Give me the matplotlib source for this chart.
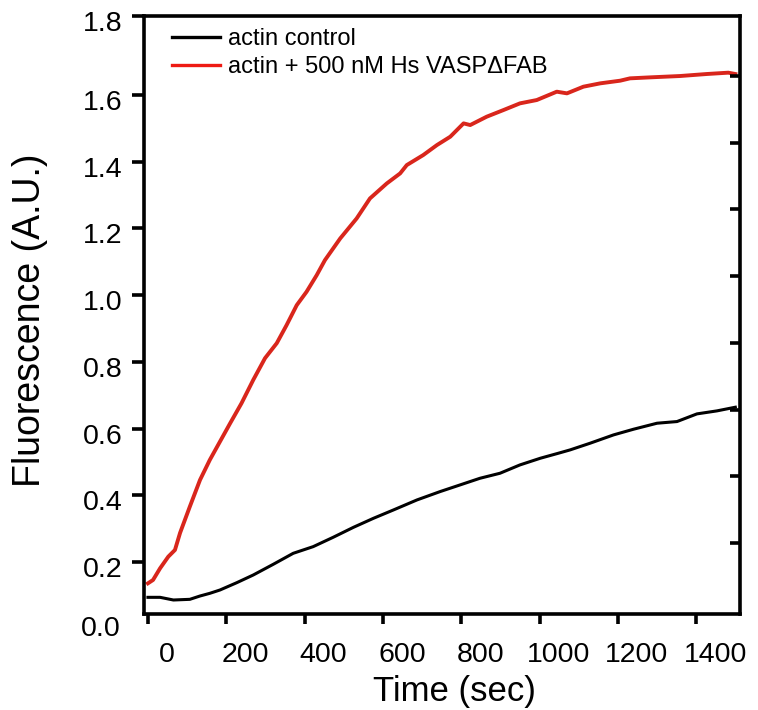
import matplotlib
matplotlib.use("Agg")
import matplotlib.pyplot as plt
from matplotlib.lines import Line2D
from matplotlib.transforms import ScaledTranslation

plt.rcParams['font.family'] = ['Liberation Sans', 'DejaVu Sans']

# actin + 500 nM Hs VASPdFAB
t_vasp = [0, 13, 31, 52, 69, 82, 107, 133, 158, 184, 210, 239, 269, 299, 329,
          354, 380, 405, 431, 452, 491, 533, 567, 610, 644, 661, 703, 738, 772,
          806, 823, 865, 908, 950, 993, 1044, 1070, 1112, 1155, 1206, 1231,
          1283, 1359, 1427, 1482, 1500]
f_vasp = [0.136, 0.146, 0.181, 0.216, 0.236, 0.287, 0.366, 0.446, 0.506, 0.561,
          0.616, 0.676, 0.746, 0.811, 0.856, 0.910, 0.970, 1.010, 1.060, 1.105,
          1.170, 1.230, 1.290, 1.335, 1.365, 1.390, 1.420, 1.450, 1.475, 1.515,
          1.510, 1.535, 1.555, 1.575, 1.585, 1.610, 1.605, 1.625, 1.635, 1.643,
          1.650, 1.653, 1.657, 1.663, 1.667, 1.663]

# actin control
t_ctrl = [0, 31, 65, 107, 133, 158, 184, 227, 269, 320, 371, 422, 473, 525, 576,
          627, 687, 746, 797, 848, 899, 950, 1002, 1048, 1078, 1129, 1189, 1240,
          1300, 1351, 1402, 1453, 1500]
f_ctrl = [0.094, 0.094, 0.086, 0.088, 0.098, 0.106, 0.116, 0.138, 0.161, 0.193,
          0.226, 0.246, 0.274, 0.304, 0.331, 0.356, 0.386, 0.411, 0.431, 0.451,
          0.466, 0.491, 0.511, 0.526, 0.536, 0.556, 0.581, 0.598, 0.616, 0.621,
          0.644, 0.653, 0.664]

x_ticks = [0, 200, 400, 600, 800, 1000, 1200, 1400]
y_ticks = [0.2, 0.4, 0.6, 0.8, 1.0, 1.2, 1.4, 1.6]
y_tick_labels = ['0.2', '0.4', '0.6', '0.8', '1.0', '1.2', '1.4', '1.6']
right_ticks = [0.257, 0.457, 0.657, 0.857, 1.057, 1.257, 1.457, 1.657]

fig = plt.figure(figsize=(7.58, 7.10), dpi=100)
ax = fig.add_axes([0.19, 0.1352, 0.7863, 0.8423])

ax.plot(t_ctrl, f_ctrl, color='black', lw=2.2)
ax.plot(t_vasp, f_vasp, color='#d9261c', lw=2.8)

ax.set_xlim(-10, 1512)
ax.set_ylim(0.044, 1.837)

# top tick sits on the upper frame line
ax.set_yticks(y_ticks + [1.837])
ax.set_yticklabels(y_tick_labels + ['1.8'])
ax.set_xticks(x_ticks)
ax.set_xticklabels([str(v) for v in x_ticks])

for s in ax.spines.values():
    s.set_linewidth(2.6)
ax.tick_params(axis='x', direction='out', length=7.5, width=2.6, pad=13,
               labelsize=20.5, top=False)
ax.tick_params(axis='y', direction='out', length=8.6, width=2.6, pad=7,
               labelsize=20.5, right=False)

# tick labels in the original are nudged off their ticks
for lab in ax.get_xticklabels():
    lab.set_transform(lab.get_transform() + ScaledTranslation(0.19, 0, fig.dpi_scale_trans))
for lab in ax.get_yticklabels():
    lab.set_transform(lab.get_transform() + ScaledTranslation(0, -0.05, fig.dpi_scale_trans))

ax.text(-0.0392, 0.0, '0.0', transform=ax.get_yaxis_transform(), ha='right',
        va='center', fontsize=20.5, clip_on=False)

ax2 = ax.twinx()
ax2.set_ylim(ax.get_ylim())
ax2.set_yticks(right_ticks)
ax2.tick_params(axis='y', direction='in', length=7.5, width=2.6, labelright=False)
for s in ax2.spines.values():
    s.set_visible(False)

ax.set_xlabel('Time (sec)', fontsize=25)
ax.xaxis.set_label_coords(0.52, -0.102)
ax.set_ylabel('Fluorescence (A.U.)', fontsize=27)
ax.yaxis.set_label_coords(-0.161, 0.492)

handles = [Line2D([], [], color='black', lw=2.4),
           Line2D([], [], color='#ee1a14', lw=2.4)]
ax.legend(handles, ['actin control', 'actin + 500 nM Hs VASPΔFAB'],
          loc='upper left', bbox_to_anchor=(0.047, 0.980), frameon=False,
          fontsize=17, borderpad=0, borderaxespad=0, handlelength=2.05,
          handletextpad=0.3, labelspacing=0.25)

fig.savefig('out.png', dpi=100)
